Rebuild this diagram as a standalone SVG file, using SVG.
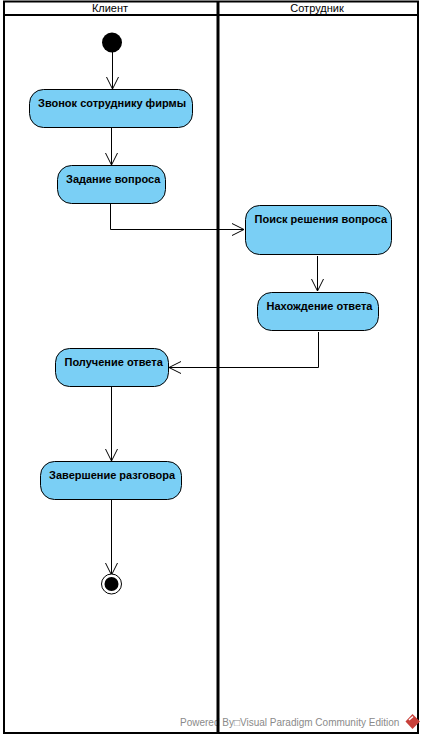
<svg xmlns="http://www.w3.org/2000/svg" width="423" height="738" viewBox="0 0 423 738">
<style>
.n{fill:#7acff5;stroke:#000;stroke-width:1}
.t{font-family:"Liberation Sans",Arial,sans-serif;font-size:11px;font-weight:700;fill:#000}
.h{font-family:"Liberation Sans",Arial,sans-serif;font-size:11px;fill:#000;text-anchor:middle}
.c{fill:none;stroke:#000;stroke-width:1}
.f{fill:none;stroke:#000}
</style>
<defs>
<marker id="a" markerUnits="userSpaceOnUse" markerWidth="16" markerHeight="16" refX="13" refY="8" orient="auto" overflow="visible">
<path d="M1 2 L13 8 L1 14" fill="none" stroke="#000" stroke-width="1"/>
</marker>
</defs>
<rect width="423" height="738" fill="#fff"/>
<g id="watermark">
<text x="180" y="726" font-family="'Liberation Sans',Arial,sans-serif" font-size="10px" fill="#8a8a8a">Powered By□Visual Paradigm Community Edition</text>
</g>
<g id="swimlanes">
<rect class="f" x="4" y="1.500" width="414" height="731.500" stroke-width="2"/>
<line class="f" x1="4" y1="15" x2="418" y2="15" stroke-width="2"/>
<line class="f" x1="218" y1="1" x2="218" y2="734" stroke-width="3"/>
<text class="h" x="110" y="12">Клиент</text>
<text class="h" x="317" y="12">Сотрудник</text>
</g>
<g id="connectors">
<path class="c" d="M112.500 52V89" marker-end="url(#a)"/>
<path class="c" d="M111.500 128V165" marker-end="url(#a)"/>
<path class="c" d="M110.500 204V229.500H244" marker-end="url(#a)"/>
<path class="c" d="M317.500 256V291" marker-end="url(#a)"/>
<path class="c" d="M318.500 332V367.500H169" marker-end="url(#a)"/>
<path class="c" d="M111.500 387V461" marker-end="url(#a)"/>
<path class="c" d="M111.500 500V575" marker-end="url(#a)"/>
</g>
<g id="start"><circle cx="112" cy="42.500" r="10" fill="#000"/></g>
<g id="node1"><rect class="n" x="29.500" y="89.500" width="163" height="38" rx="14"/><text class="t" x="38" y="107">Звонок сотруднику фирмы</text></g>
<g id="node2"><rect class="n" x="57.500" y="165.500" width="108" height="38" rx="14"/><text class="t" x="66" y="183">Задание вопроса</text></g>
<g id="node3"><rect class="n" x="245.500" y="205.500" width="146" height="49" rx="14"/><text class="t" x="254.500" y="223">Поиск решения вопроса</text></g>
<g id="node4"><rect class="n" x="257.500" y="292.500" width="121" height="38" rx="14"/><text class="t" x="266.500" y="310">Нахождение ответа</text></g>
<g id="node5"><rect class="n" x="55.500" y="348.500" width="113" height="38" rx="14"/><text class="t" x="64.500" y="366">Получение ответа</text></g>
<g id="node6"><rect class="n" x="40.500" y="461.500" width="141" height="38" rx="14"/><text class="t" x="49" y="479">Завершение разговора</text></g>
<g id="end"><circle cx="111.500" cy="584" r="10" fill="#fff" stroke="#000" stroke-width="1"/><circle cx="111.500" cy="584" r="7" fill="#000"/></g>
<g id="logo">
<path d="M412.500 714L420 721.500L412.500 729L405.500 721.500Z" fill="#c8403a"/>
<path d="M409 720L413 716.500" stroke="#fff" stroke-width="1.500" fill="none"/>
</g>
</svg>
